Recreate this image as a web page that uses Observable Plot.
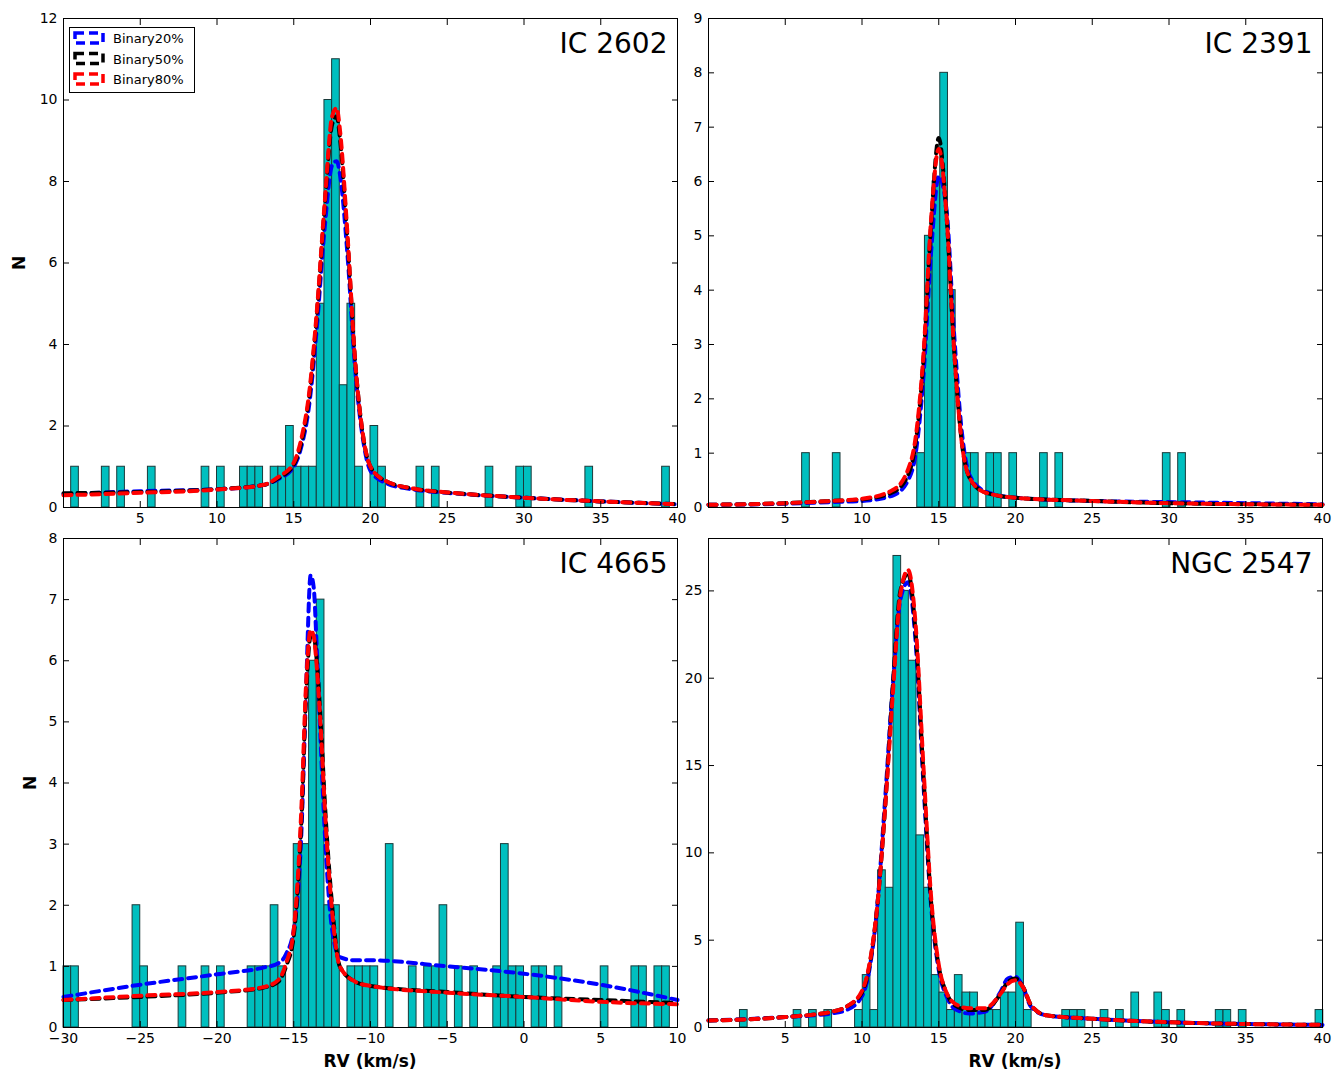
<!DOCTYPE html>
<html><head><meta charset="utf-8">
<script src="https://cdn.jsdelivr.net/npm/d3@7"></script>
<script src="https://cdn.jsdelivr.net/npm/@observablehq/plot@0.6"></script>
<style>
body{margin:0;background:#fff;font-family:"DejaVu Sans",sans-serif}
#wrap{position:relative;width:1344px;height:1073px}
#wrap svg.p{position:absolute}
.lab{position:absolute;font-weight:bold;font-size:17px}
</style></head><body><div id="wrap"></div>
<script>
// histogram bins: left edges and counts, bin width 0.5 km/s
const ic2602Start = [0.5,2.5,3.5,5.5,9,10,11.5,12,12.5,13.5,14,14.5,15,15.5,16,16.5,17,17.5,18,18.5,19,20,20.5,23,24,27.5,29.5,30,34,39];
const ic2602Count = [1,1,1,1,1,1,1,1,1,1,1,2,1,1,1,5,10,11,3,5,1,2,1,1,1,1,1,1,1,1];
const ic2391Start = [6.1,8.1,13.6,14.1,14.6,15.1,15.6,16.6,17.1,18.1,18.6,19.6,21.6,22.6,29.6,30.6];
const ic2391Count = [1,1,1,5,6,8,4,1,1,1,1,1,1,1,1,1];
const ic4665Start = [-30,-29.5,-25.5,-25,-22.5,-21,-20,-18,-17.5,-17,-16.5,-16,-15,-14.5,-14,-13.5,-13,-12.5,-11.5,-11,-10.5,-10,-9,-7.5,-6.5,-6,-5.5,-4.5,-3.5,-2,-1.5,-1,-0.5,0.5,1,2,5,7,7.5,8.5,9];
const ic4665Count = [1,1,2,1,1,1,1,1,1,1,2,1,3,3,6,7,2,2,1,1,1,1,3,1,1,1,2,1,1,1,3,1,1,1,1,1,1,1,1,1,1];
const ngc2547Start = [2.05,5.55,6.55,7.55,9.55,10.05,10.55,11.05,11.55,12.05,12.55,13.05,13.55,14.05,14.55,15.05,15.55,16.05,16.55,17.05,17.55,18.05,18.55,19.05,19.55,20.05,20.55,23.05,23.55,24.05,25.55,26.55,27.55,29.05,29.55,30.55,33.05,33.55,34.55,39.55];
const ngc2547Count = [1,1,1,1,1,3,1,9,8,27,25,21,11,8,3,2,1,3,2,2,1,1,1,2,2,6,1,1,1,1,1,1,2,2,1,1,1,1,1,1];

// model curves: x, then y for Binary20/50/80
const ic2602X   = [0,5,10,13,14,15,15.5,16,16.5,17,17.5,17.8,18,18.5,19,19.5,20,21,23,25,30,35,40];
const ic2602B20 = [0.33,0.4,0.45,0.55,0.7,1.0,1.5,2.5,4.4,6.8,8.4,8.5,8.2,6.2,3.4,1.7,0.9,0.6,0.43,0.36,0.24,0.15,0.08];
const ic2602B50 = [0.35,0.38,0.45,0.55,0.72,1.05,1.6,2.7,4.7,7.3,9.4,9.6,9.1,6.6,3.6,1.8,1.0,0.65,0.45,0.37,0.24,0.15,0.08];
const ic2602B80 = [0.3,0.36,0.44,0.55,0.75,1.1,1.7,2.8,4.8,7.4,9.6,9.8,9.3,6.7,3.6,1.8,1.0,0.65,0.45,0.37,0.24,0.15,0.08];
const ic2391X   = [0,5,8,10,12,13,13.5,14,14.5,15,15.5,16,16.5,17,18,20,25,30,35,40];
const ic2391B20 = [0.05,0.07,0.1,0.12,0.22,0.5,1.0,2.4,4.7,6.1,5.5,3.2,1.4,0.6,0.3,0.18,0.12,0.1,0.08,0.06];
const ic2391B50 = [0.05,0.08,0.12,0.15,0.28,0.6,1.2,2.7,5.2,6.8,5.4,2.9,1.2,0.55,0.28,0.18,0.12,0.08,0.06,0.05];
const ic2391B80 = [0.05,0.08,0.12,0.16,0.32,0.7,1.3,2.8,5.3,6.6,5.4,2.9,1.2,0.55,0.28,0.18,0.12,0.08,0.06,0.05];
const ic4665X   = [-30,-25,-20,-17,-16,-15.5,-15,-14.5,-14.2,-13.9,-13.7,-13.5,-13.2,-13,-12.5,-12,-11,-10,-5,0,5,10];
const ic4665B20 = [0.5,0.7,0.87,0.98,1.05,1.2,1.6,3.2,5.5,7.4,7.2,6.2,4.4,3.3,1.6,1.15,1.1,1.1,1.0,0.88,0.7,0.45];
const ic4665B50 = [0.45,0.5,0.57,0.65,0.75,1.0,1.5,3.4,5.4,6.4,6.4,6.0,4.8,3.8,2.0,1.0,0.75,0.68,0.58,0.5,0.45,0.4];
const ic4665B80 = [0.45,0.52,0.58,0.66,0.78,1.05,1.6,3.6,5.6,6.5,6.4,5.9,4.7,3.7,1.9,1.0,0.75,0.68,0.57,0.5,0.42,0.38];
const ngc2547X   = [0,5,8,9,10,10.5,11,11.5,12,12.5,13,13.5,14,14.5,15,15.5,16,17,18,19,19.5,20,20.5,21,22,25,30,35,40];
const ngc2547B20 = [0.4,0.6,0.8,1.0,1.8,3.4,7,13,19.5,24.5,25.5,22,14,7,3.3,1.8,1.1,0.8,0.9,2.0,2.8,2.9,2.3,1.2,0.7,0.5,0.3,0.2,0.15];
const ngc2547B50 = [0.4,0.6,0.9,1.2,2.0,3.6,7,12.5,19.5,25,26,22.5,14.5,7.2,3.5,2.0,1.3,1.0,1.0,1.9,2.6,2.8,2.3,1.3,0.7,0.5,0.3,0.2,0.15];
const ngc2547B80 = [0.4,0.6,0.9,1.2,2.1,3.7,7,12.5,19,24.8,26.2,23,15,7.5,3.6,2.0,1.4,1.1,1.1,1.9,2.5,2.7,2.3,1.3,0.7,0.5,0.3,0.2,0.15];

const fmtMinus = d => d < 0 ? "\u2212" + (-d) : String(d);
const blank = () => "";

function panel({name, starts, counts, width: bw, xs, b20, b50, b80, xdom, xticks, ydom, yticks, left, top, bottom}) {
  const bars = starts.map((s, i) => ({x1: s, x2: s + bw, n: counts[i]}));
  const curve = ys => xs.map((x, i) => ({x, y: ys[i]}));
  const mb = bottom ? 47 : 30;
  const ax = {tickSize: -6, tickPadding: 12, fontSize: 14, label: null};
  const dash = {x: "x", y: "y", strokeWidth: 4, strokeDasharray: "8,6", curve: "monotone-x"};
  const chart = Plot.plot({
    width: 674, height: 18 + 489 + mb,
    marginLeft: 50, marginRight: 10, marginTop: 18, marginBottom: mb,
    x: {domain: xdom}, y: {domain: ydom},
    style: {fontFamily: "DejaVu Sans", fontSize: "14px", color: "black"},
    marks: [
      Plot.rectY(bars, {x1: "x1", x2: "x2", y: "n", fill: "#00bfbf", stroke: "#1a3a3a", strokeWidth: 1}),
      Plot.line(curve(b20), {...dash, stroke: "blue"}),
      Plot.line(curve(b50), {...dash, stroke: "black"}),
      Plot.line(curve(b80), {...dash, stroke: "red"}),
      Plot.axisX({...ax, ticks: xticks, tickFormat: fmtMinus}),
      Plot.axisX({...ax, anchor: "top", ticks: xticks, tickFormat: blank}),
      Plot.axisY({...ax, ticks: yticks}),
      Plot.axisY({...ax, anchor: "right", ticks: yticks, tickFormat: blank}),
      Plot.frame({stroke: "black", strokeWidth: 1}),
      Plot.text([name], {frameAnchor: "top-right", dx: -10, dy: 15, fontSize: 28, textAnchor: "end", lineAnchor: "top"})
    ]
  });
  chart.classList.add("p");
  chart.style.left = (left - 50) + "px";
  chart.style.top = (top - 18) + "px";
  document.getElementById("wrap").append(chart);
}

const x40 = [5,10,15,20,25,30,35,40];
panel({name: "IC 2602", starts: ic2602Start, counts: ic2602Count, width: 0.5, xs: ic2602X, b20: ic2602B20, b50: ic2602B50, b80: ic2602B80,
  xdom: [0, 40], xticks: x40, ydom: [0, 12], yticks: d3.range(0, 13, 2), left: 63, top: 18});
panel({name: "IC 2391", starts: ic2391Start, counts: ic2391Count, width: 0.5, xs: ic2391X, b20: ic2391B20, b50: ic2391B50, b80: ic2391B80,
  xdom: [0, 40], xticks: x40, ydom: [0, 9], yticks: d3.range(0, 10), left: 708, top: 18});
panel({name: "IC 4665", starts: ic4665Start, counts: ic4665Count, width: 0.5, xs: ic4665X, b20: ic4665B20, b50: ic4665B50, b80: ic4665B80,
  xdom: [-30, 10], xticks: d3.range(-30, 11, 5), ydom: [0, 8], yticks: d3.range(0, 9), left: 63, top: 538, bottom: true});
panel({name: "NGC 2547", starts: ngc2547Start, counts: ngc2547Count, width: 0.5, xs: ngc2547X, b20: ngc2547B20, b50: ngc2547B50, b80: ngc2547B80,
  xdom: [0, 40], xticks: x40, ydom: [0, 28], yticks: d3.range(0, 26, 5), left: 708, top: 538, bottom: true});

// axis labels
const wrap = document.getElementById("wrap");
function label(text, x, y, rot) {
  const d = document.createElement("div");
  d.className = "lab"; d.textContent = text;
  d.style.left = x + "px"; d.style.top = y + "px";
  if (rot) { d.style.transform = "translate(-50%,-50%) rotate(-90deg)"; }
  else d.style.transform = "translateX(-50%)";
  wrap.append(d);
}
label("N", 19, 263, true);
label("N", 30, 783, true);
label("RV (km/s)", 370, 1051);
label("RV (km/s)", 1015, 1051);

// legend
const legNames = ["Binary20%", "Binary50%", "Binary80%"];
const legColors = ["blue", "black", "red"];
const leg = d3.select(wrap).append("svg").attr("width", 126).attr("height", 66)
  .style("position", "absolute").style("left", "69px").style("top", "27px");
leg.append("rect").attr("x", 0.5).attr("y", 0.5).attr("width", 125).attr("height", 65).attr("fill", "white").attr("stroke", "black");
legNames.forEach((n, i) => {
  const y = 11 + i * 20.5;
  leg.append("rect").attr("x", 6).attr("y", y - 5).attr("width", 28).attr("height", 10)
    .attr("fill", "none").attr("stroke", legColors[i]).attr("stroke-width", 3.5).attr("stroke-dasharray", "9,5");
  leg.append("text").attr("x", 44).attr("y", y + 5).text(n).attr("font-size", 13).attr("font-family", "DejaVu Sans");
});
</script></body></html>
